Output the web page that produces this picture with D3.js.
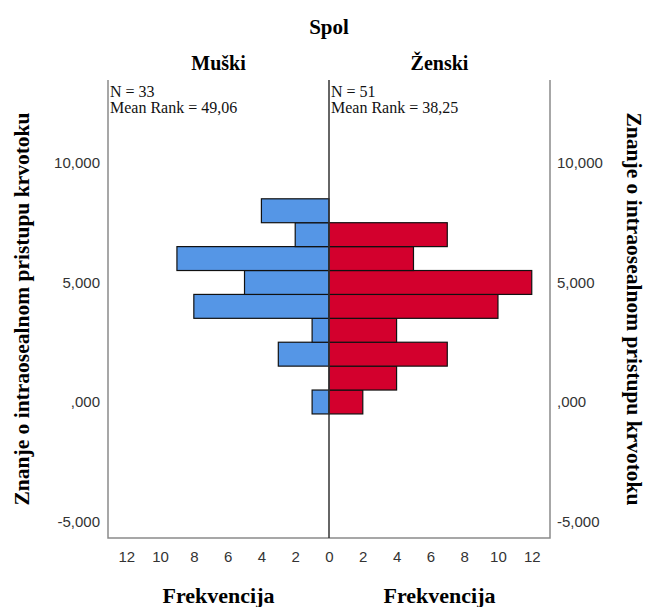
<!DOCTYPE html>
<html>
<head>
<meta charset="utf-8">
<script src="https://cdn.jsdelivr.net/npm/d3@7"></script>
<style>
  body { margin: 0; background: #fff; }
  .serif { font-family: "Liberation Serif", "Times New Roman", serif; }
  .tick-label { font-family: "Liberation Sans", Arial, sans-serif; font-size: 15px; fill: #333; }
</style>
</head>
<body>
<div id="chart"></div>
<script>
// bins of the knowledge score (0..8) and counts per sex
var bins = [0, 1, 2, 3, 4, 5, 6, 7, 8];
var maleCounts = [1, 0, 3, 1, 8, 5, 9, 2, 4];
var femaleCounts = [2, 4, 7, 4, 10, 12, 5, 7, 0];

var yTicks = [-5, 0, 5, 10];
var yTickLabels = ["-5,000", ",000", "5,000", "10,000"];
var xTicks = [0, 2, 4, 6, 8, 10, 12];

var groups = ["Muški", "Ženski"];
var groupN = [33, 51];
var meanRanks = ["49,06", "38,25"];

var svgWidth = 651;
var svgHeight = 607;

var plot = { left: 108, center: 329, right: 550, top: 80, bottom: 538 };

var svg = d3.select("#chart")
            .append("svg")
                .attr("width", svgWidth)
                .attr("height", svgHeight);

var xMax = 13.08;
var xLeft = d3.scaleLinear().domain([0, xMax]).range([plot.center, plot.left]);
var xRight = d3.scaleLinear().domain([0, xMax]).range([plot.center, plot.right]);
var yScale = d3.scaleLinear().domain([-5.69, 13.47]).range([plot.bottom, plot.top]);

var maleData = bins.map((b, i) => ({ bin: b, count: maleCounts[i] }));
var femaleData = bins.map((b, i) => ({ bin: b, count: femaleCounts[i] }));

// bars
svg.append("g").selectAll("rect")
    .data(maleData.filter(d => d.count > 0))
    .enter().append("rect")
        .attr("x", d => xLeft(d.count))
        .attr("y", d => yScale(d.bin + 0.5))
        .attr("width", d => xLeft(0) - xLeft(d.count))
        .attr("height", d => yScale(d.bin - 0.5) - yScale(d.bin + 0.5))
        .attr("fill", "#5596e6")
        .attr("stroke", "#111")
        .attr("stroke-width", 1.2);

svg.append("g").selectAll("rect")
    .data(femaleData.filter(d => d.count > 0))
    .enter().append("rect")
        .attr("x", xRight(0))
        .attr("y", d => yScale(d.bin + 0.5))
        .attr("width", d => xRight(d.count) - xRight(0))
        .attr("height", d => yScale(d.bin - 0.5) - yScale(d.bin + 0.5))
        .attr("fill", "#d3002d")
        .attr("stroke", "#111")
        .attr("stroke-width", 1.2);

// frame: sides and bottom, no top
svg.append("path")
    .attr("d", `M${plot.left},${plot.top}V${plot.bottom}H${plot.right}V${plot.top}`)
    .attr("fill", "none")
    .attr("stroke", "#8a8a8a")
    .attr("stroke-width", 1.5);

svg.append("line")
    .attr("x1", plot.center).attr("x2", plot.center)
    .attr("y1", plot.top).attr("y2", plot.bottom)
    .attr("stroke", "#333")
    .attr("stroke-width", 1.5);

// x axes
var bottomLeft = d3.axisBottom(xLeft).tickValues(xTicks).tickSize(0).tickPadding(0);
var bottomRight = d3.axisBottom(xRight).tickValues(xTicks.filter(t => t > 0)).tickSize(0).tickPadding(0);

[bottomLeft, bottomRight].forEach(function(ax) {
    var g = svg.append("g")
        .attr("transform", `translate(0, ${plot.bottom})`)
        .call(ax);
    g.select(".domain").remove();
    g.selectAll("text")
        .attr("class", "tick-label")
        .attr("dy", null)
        .attr("y", 24);
});

// y axes
var leftAxis = d3.axisLeft(yScale).tickValues(yTicks)
    .tickFormat((d, i) => yTickLabels[i]).tickSize(0).tickPadding(8);
var rightAxis = d3.axisRight(yScale).tickValues(yTicks)
    .tickFormat((d, i) => yTickLabels[i]).tickSize(0).tickPadding(7);

var yl = svg.append("g").attr("transform", `translate(${plot.left}, 0)`).call(leftAxis);
var yr = svg.append("g").attr("transform", `translate(${plot.right}, 0)`).call(rightAxis);
[yl, yr].forEach(function(g) {
    g.select(".domain").remove();
    g.selectAll("text").attr("class", "tick-label");
});

// titles
svg.append("text")
    .attr("class", "serif")
    .attr("x", plot.center)
    .attr("y", 34)
    .attr("text-anchor", "middle")
    .style("font-size", "21px")
    .style("font-weight", "bold")
    .text("Spol");

var halfCenters = [(plot.left + plot.center) / 2, (plot.center + plot.right) / 2];
var statX = [plot.left + 2, plot.center + 2];

groups.forEach(function(name, i) {
    svg.append("text")
        .attr("class", "serif")
        .attr("x", halfCenters[i])
        .attr("y", 70)
        .attr("text-anchor", "middle")
        .style("font-size", "20px")
        .style("font-weight", "bold")
        .text(name);

    svg.append("text")
        .attr("class", "serif")
        .attr("x", statX[i])
        .attr("y", 97)
        .style("font-size", "16px")
        .attr("fill", "#111")
        .text("N = " + groupN[i]);

    svg.append("text")
        .attr("class", "serif")
        .attr("x", statX[i])
        .attr("y", 113)
        .style("font-size", "16px")
        .attr("fill", "#111")
        .text("Mean Rank = " + meanRanks[i]);

    svg.append("text")
        .attr("class", "serif")
        .attr("x", halfCenters[i])
        .attr("y", 603)
        .attr("text-anchor", "middle")
        .style("font-size", "22px")
        .style("font-weight", "bold")
        .text("Frekvencija");
});

var yTitle = "Znanje o intraosealnom pristupu krvotoku";
var midY = (plot.top + plot.bottom) / 2;

svg.append("text")
    .attr("class", "serif")
    .attr("transform", `translate(29, ${midY}) rotate(-90)`)
    .attr("text-anchor", "middle")
    .style("font-size", "21.5px")
    .style("font-weight", "bold")
    .text(yTitle);

svg.append("text")
    .attr("class", "serif")
    .attr("transform", `translate(627, ${midY}) rotate(90)`)
    .attr("text-anchor", "middle")
    .style("font-size", "21.5px")
    .style("font-weight", "bold")
    .text(yTitle);
</script>
</body>
</html>
